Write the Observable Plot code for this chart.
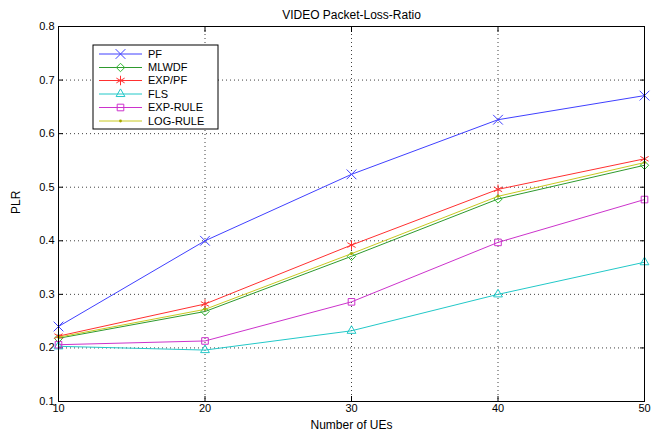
<!DOCTYPE html>
<html>
<head>
<meta charset="utf-8">
<script src="https://cdn.jsdelivr.net/npm/d3@7"></script>
<script src="https://cdn.jsdelivr.net/npm/@observablehq/plot@0.6"></script>
<style>
  html, body { margin: 0; padding: 0; background: #fff; }
  svg { font-family: "Liberation Sans", Arial, sans-serif; }
</style>
</head>
<body>
<div id="chart"></div>
<script>
const title = "VIDEO Packet-Loss-Ratio";
const xLabel = "Number of UEs";
const yLabel = "PLR";
const ues = [10, 20, 30, 40, 50];
const xTicks = [10, 20, 30, 40, 50];
const yTicks = [0.1, 0.2, 0.3, 0.4, 0.5, 0.6, 0.7, 0.8];
const seriesNames = ["PF", "MLWDF", "EXP/PF", "FLS", "EXP-RULE", "LOG-RULE"];
const PF      = [0.240, 0.400, 0.524, 0.626, 0.671];
const MLWDF   = [0.218, 0.268, 0.371, 0.478, 0.541];
const EXPPF   = [0.222, 0.282, 0.392, 0.496, 0.553];
const FLS     = [0.203, 0.196, 0.232, 0.300, 0.360];
const EXPRULE = [0.206, 0.213, 0.286, 0.397, 0.477];
const LOGRULE = [0.220, 0.272, 0.376, 0.483, 0.546];
const seriesValues = [PF, MLWDF, EXPPF, FLS, EXPRULE, LOGRULE];

const colors  = ["#4040ff", "#2e9a2e", "#ff3030", "#22c8c8", "#cc33cc", "#c8c820"];
const markerColors = ["#4040ff", "#33b833", "#ff3030", "#22c8c8", "#cc33cc", "#a8a800"];
const symbols = ["times", "diamond2", "asterisk", "triangle2", "square2", "circle"];
const radii   = [4.5, 3.8, 4.5, 4.2, 4.2, 1.4];

const rows = [];
seriesNames.forEach((name, i) => {
  ues.forEach((u, j) => rows.push({series: name, idx: i, x: u, y: seriesValues[i][j]}));
});

const lineMarks = [];
seriesNames.forEach((name, i) => {
  const d = rows.filter(r => r.series === name);
  lineMarks.push(Plot.line(d, {x: "x", y: "y", stroke: colors[i], strokeWidth: 1}));
  if (symbols[i] === "circle") {
    lineMarks.push(Plot.dot(d, {x: "x", y: "y", symbol: "circle", r: radii[i], fill: markerColors[i], stroke: "none"}));
  } else {
    lineMarks.push(Plot.dot(d, {x: "x", y: "y", symbol: symbols[i], r: radii[i], stroke: markerColors[i], strokeWidth: 1, fill: "none"}));
  }
});

const plot = Plot.plot({
  width: 658,
  height: 430,
  marginLeft: 58,
  marginRight: 14,
  marginTop: 26,
  marginBottom: 29,
  style: {fontFamily: "Liberation Sans, Arial, sans-serif", fontSize: "11px", background: "#fff"},
  x: {domain: [10, 50], label: null},
  y: {domain: [0.1, 0.8], label: null},
  marks: [
    Plot.gridX(xTicks, {stroke: "#000", strokeOpacity: 0.75, strokeDasharray: "1,3"}),
    Plot.gridY(yTicks, {stroke: "#000", strokeOpacity: 0.75, strokeDasharray: "1,3"}),
    Plot.axisX(xTicks, {anchor: "bottom", tickSize: 0, tickPadding: 3, tickFormat: d => String(d), fontSize: 11}),
    Plot.axisY(yTicks, {anchor: "left", tickSize: 0, tickPadding: 4, tickFormat: d => d.toFixed(1), fontSize: 11}),
    Plot.axisX(xTicks, {anchor: "bottom", tickSize: -5, tickFormat: () => ""}),
    Plot.axisX(xTicks, {anchor: "top", tickSize: -5, tickFormat: () => ""}),
    Plot.axisY(yTicks, {anchor: "left", tickSize: -5, tickFormat: () => ""}),
    Plot.axisY(yTicks, {anchor: "right", tickSize: -5, tickFormat: () => ""}),
    ...lineMarks,
    Plot.frame({stroke: "#000", strokeWidth: 1}),
    Plot.text([title], {frameAnchor: "top", dy: -16, fontSize: 12, fill: "#000"}),
    Plot.text([xLabel], {frameAnchor: "bottom", dy: 27, fontSize: 12, fill: "#000"}),
    Plot.text([yLabel], {frameAnchor: "left", dx: -42, rotate: -90, fontSize: 12, fill: "#000"})
  ]
});

// Legend box (layout only)
const svg = d3.select(plot);
const lg = svg.append("g").attr("class", "legend").attr("text-anchor", "start");
const box = {x: 93, y: 45, w: 125, h: 84};
lg.append("rect").attr("x", box.x).attr("y", box.y).attr("width", box.w).attr("height", box.h)
  .attr("fill", "#fff").attr("stroke", "#000").attr("stroke-width", 1);
const rowYs = [54, 67.5, 80.5, 94, 107.5, 121];
seriesNames.forEach((name, i) => {
  const y = rowYs[i];
  const g = lg.append("g");
  g.append("line").attr("x1", 99).attr("x2", 142).attr("y1", y).attr("y2", y)
    .attr("stroke", colors[i]).attr("stroke-width", 1);
  const sym = {
    times: d3.symbolTimes, diamond2: d3.symbolDiamond2, asterisk: d3.symbolAsterisk,
    triangle2: d3.symbolTriangle2, square2: d3.symbolSquare2, circle: d3.symbolCircle
  }[symbols[i]];
  const size = Math.PI * radii[i] * radii[i];
  const p = g.append("path").attr("d", d3.symbol(sym, size)()).attr("transform", `translate(120.5,${y})`);
  if (symbols[i] === "circle") p.attr("fill", markerColors[i]).attr("stroke", "none");
  else p.attr("fill", "none").attr("stroke", markerColors[i]).attr("stroke-width", 1);
  g.append("text").attr("x", 148).attr("y", y).attr("dy", "0.35em")
    .attr("text-anchor", "start").attr("font-size", 11).attr("fill", "#000").text(name);
});

document.getElementById("chart").appendChild(plot);
</script>
</body>
</html>
